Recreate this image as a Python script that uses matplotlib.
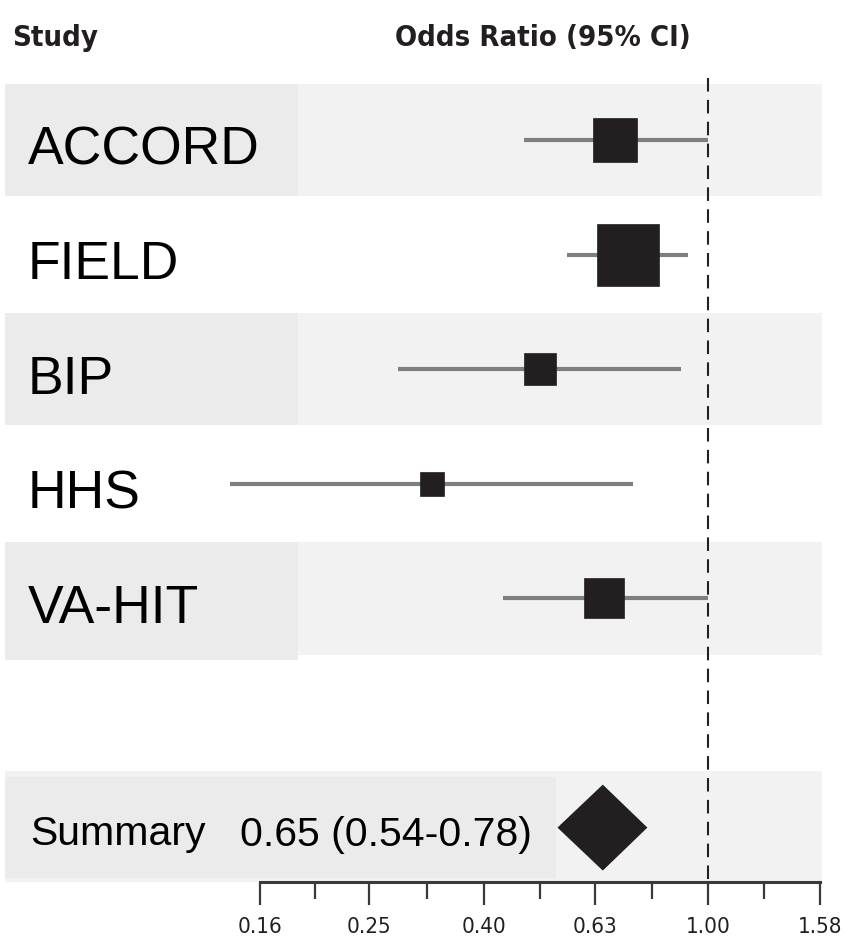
import numpy as np
import matplotlib
matplotlib.use("Agg")
import matplotlib.pyplot as plt
from matplotlib import font_manager
from matplotlib.ticker import FixedLocator, FixedFormatter, NullFormatter

# ---------------- data ----------------
studies = ["ACCORD", "FIELD", "BIP", "HHS", "VA-HIT"]
odds_ratio = [0.684, 0.721, 0.502, 0.323, 0.654]
ci_low = [0.471, 0.561, 0.281, 0.1415, 0.432]
ci_high = [1.00, 0.92, 0.895, 0.735, 1.00]
weights = [21.5, 42.6, 11.4, 5.9, 18.6]          # relative study weights (%)

summary_label = "Summary"
summary_or = 0.65
summary_low = 0.54
summary_high = 0.78
summary_text = "0.65 (0.54-0.78)"

tick_values = [0.16, 0.25, 0.40, 0.63, 1.00, 1.58]
tick_labels = ["0.16", "0.25", "0.40", "0.63", "1.00", "1.58"]

header_study = "Study"
header_or = "Odds Ratio (95% CI)"

# ---------------- fonts ----------------
names = {f.name for f in font_manager.fontManager.ttflist}
has_narrow = "Liberation Sans Narrow" in names
has_dv_cond = any(f.name == "DejaVu Sans" and "condensed" in str(f.stretch)
                  for f in font_manager.fontManager.ttflist)

if has_narrow:
    label_font = dict(family="Liberation Sans Narrow", size=45.5)
    summ_font = dict(family="Liberation Sans Narrow", size=35.5)
    head_font = dict(family="Liberation Sans Narrow", size=26.5, weight="bold")
    tick_font = dict(family="Liberation Sans Narrow", size=16)
else:
    label_font = dict(family="Liberation Sans", size=38.5)
    summ_font = dict(family="Liberation Sans", size=29.5)
    if has_dv_cond:
        head_font = dict(family="DejaVu Sans", size=21, weight="bold", stretch="condensed")
        tick_font = dict(family="DejaVu Sans", size=16, stretch="condensed")
    else:
        head_font = dict(family="DejaVu Sans", size=19, weight="bold")
        tick_font = dict(family="DejaVu Sans", size=14)

# ---------------- figure ----------------
W, H, DPI = 852, 950, 100
fig = plt.figure(figsize=(W / DPI, H / DPI), dpi=DPI)
fig.patch.set_facecolor("white")

axis_px = 882                     # pixel row of the x axis line
ax = fig.add_axes([0, (H - axis_px) / H, 1, axis_px / H])
ax.set_facecolor("none")

row_px0, row_step = 140.0, 114.6
def px2row(p):
    return (p - row_px0) / row_step

ax.set_xscale("log")
ppd = (820 - 260) / (np.log10(1.58) - np.log10(0.16))
xmin = 10 ** (np.log10(0.16) - 260 / ppd)
xmax = 10 ** (np.log10(1.58) + (W - 820) / ppd)
ax.set_xlim(xmin, xmax)
ax.set_ylim(px2row(axis_px), px2row(0))

rows = np.arange(len(studies))
summary_row = len(studies) + 1
ytr = ax.get_yaxis_transform()

band_c = "#f2f2f2"
box_c = "#ebebeb"
half = 0.49
for r in list(rows[::2]) + [summary_row]:
    ax.axhspan(r - half, r + half, xmin=5 / W, xmax=822 / W, color=band_c, lw=0, zorder=0)
for r in rows[::2]:
    ax.axhspan(r - half, r + half + (0.05 if r == 4 else 0), xmin=5 / W, xmax=298 / W,
               color=box_c, lw=0, zorder=0.5)
ax.axhspan(summary_row - 0.44, summary_row + 0.44, xmin=5 / W, xmax=556 / W,
           color=box_c, lw=0, zorder=0.5)

# reference line
ax.vlines(1.0, px2row(78), px2row(axis_px), colors="#222222", lw=1.5,
          linestyles=(0, (6.5, 4)), zorder=2)

# CIs and squares
ax.hlines(rows, ci_low, ci_high, colors="#7f7f7f", lw=3.0, zorder=3)
side_px = 62 * np.sqrt(np.array(weights) / max(weights))
for r, o, s in zip(rows, odds_ratio, side_px):
    ax.plot([o], [r], marker="s", ms=s * 0.72, mfc="#231f20", mec="#231f20",
            mew=0.5, ls="none", zorder=4)

# summary diamond
dh = 0.375
ax.fill([summary_low, summary_or, summary_high, summary_or],
        [summary_row, summary_row - dh, summary_row, summary_row + dh],
        color="#231f20", lw=0, zorder=4)

# labels
for r, name in zip(rows, studies):
    ax.text(28 / W, r + 0.215, name, transform=ytr, ha="left", va="baseline",
            color="black", **label_font)
ax.text(30 / W, summary_row + 0.15, summary_label, transform=ytr, ha="left",
        va="baseline", color="black", **summ_font)
ax.text(240 / W, summary_row + 0.16, summary_text, transform=ytr, ha="left",
        va="baseline", color="black", **summ_font)

ax.text(12 / W, px2row(46), header_study, transform=ytr, ha="left", va="baseline",
        color="#231f20", **head_font)
ax.text(395 / W, px2row(46), header_or, transform=ytr, ha="left", va="baseline",
        color="#231f20", **head_font)

# x axis
for s in ["top", "left", "right"]:
    ax.spines[s].set_visible(False)
ax.spines["bottom"].set_bounds(tick_values[0], tick_values[-1])
ax.spines["bottom"].set_linewidth(2.2)
ax.spines["bottom"].set_color("#3a3a3a")
ax.yaxis.set_visible(False)
minor = [np.sqrt(a * b) for a, b in zip(tick_values[:-1], tick_values[1:])]
ax.xaxis.set_major_locator(FixedLocator(tick_values))
ax.xaxis.set_major_formatter(FixedFormatter(tick_labels))
ax.xaxis.set_minor_locator(FixedLocator(minor))
ax.xaxis.set_minor_formatter(NullFormatter())
ax.tick_params(axis="x", which="major", direction="out", length=16.5, width=1.6,
               color="#3a3a3a", pad=9, labelcolor="#231f20")
ax.tick_params(axis="x", which="minor", direction="out", length=12, width=1.6,
               color="#3a3a3a")
for lab in ax.get_xticklabels():
    lab.set_fontfamily(tick_font["family"])
    lab.set_fontsize(tick_font["size"])
    if "stretch" in tick_font:
        lab.set_fontstretch(tick_font["stretch"])

fig.savefig("out.png", dpi=DPI, facecolor="white")
